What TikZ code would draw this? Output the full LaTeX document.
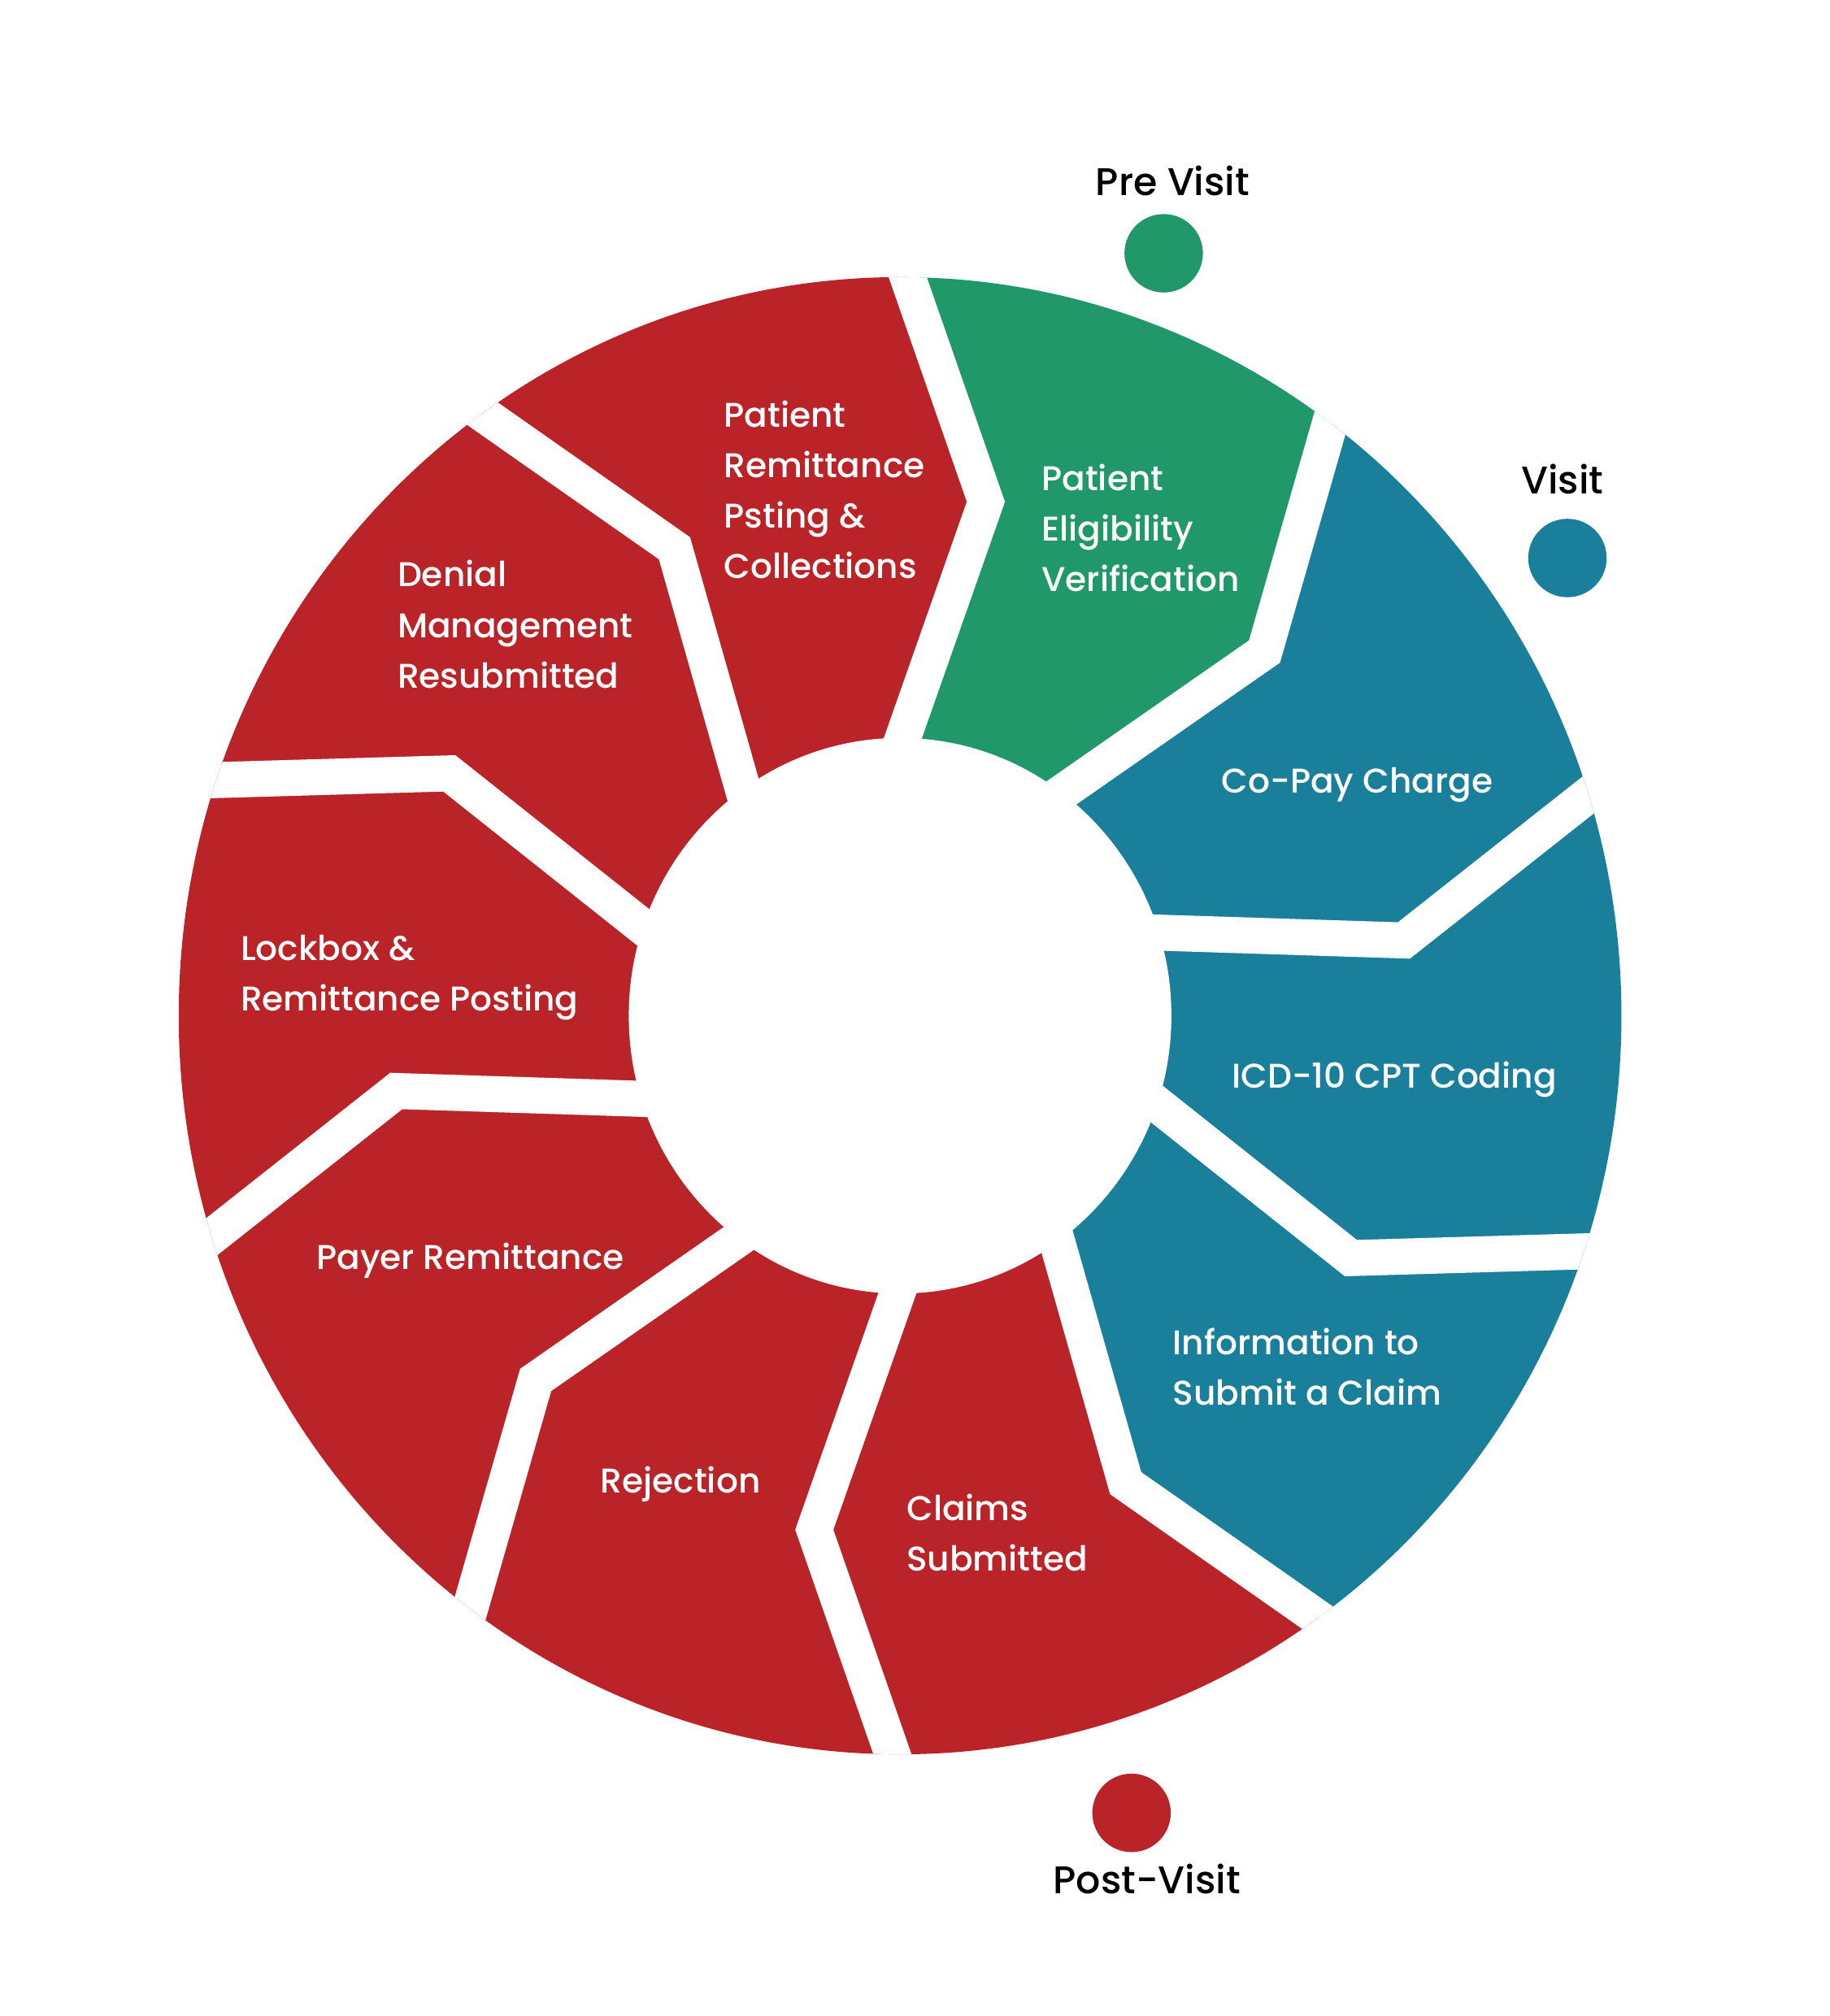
\documentclass[tikz,border=0pt]{standalone}
\usepackage{fontspec}
\setmainfont{Poppins Medium}
\usetikzlibrary{calc}
\definecolor{segred}{HTML}{BA2327}
\definecolor{seggreen}{HTML}{21986A}
\definecolor{segblue}{HTML}{1A7F9A}
\begin{document}
\begin{tikzpicture}[x=1pt,y=1pt,
  seglabel/.style={text=white, font=\fontsize{26.7}{39.3}\selectfont, align=left, anchor=base west, inner sep=0pt},
  phaselabel/.style={text=black, font=\fontsize{30}{36}\selectfont, anchor=base, inner sep=0pt},
  gapline/.style={white, line width=28pt, line join=miter},
  phasedot/.style={circle, minimum size=61pt, inner sep=0pt}]
\useasboundingbox (0,0) rectangle (1423,-1568);
\fill[white] (0,0) rectangle (1423,-1568);

\begin{scope}[shift={(700,-790)}, yscale=1.024]
  \foreach \k in {0,...,9}{
    \pgfmathsetmacro\a{90-(36*\k+0.6)}
    \pgfmathsetmacro\m{90-(36*\k+9.7)}
    \coordinate (po\k) at (\a:561);
    \coordinate (pm\k) at (\m:396);
    \coordinate (pi\k) at (\a:211);
    \coordinate (eo\k) at ($(pm\k)!1.5!(po\k)$);
    \coordinate (ei\k) at ($(pm\k)!1.4!(pi\k)$);
  }
  \begin{scope}
    \clip (0,0) circle (561);
    \foreach \k/\c in {0/seggreen,1/segblue,2/segblue,3/segblue,4/segred,5/segred,6/segred,7/segred,8/segred,9/segred}{
      \pgfmathtruncatemacro\n{mod(\k+1,10)}
      \pgfmathsetmacro\md{90-(36*\k+19)}
      \fill[\c] (ei\k) -- (pm\k) -- (eo\k) -- (\md:720) -- (eo\n) -- (pm\n) -- (ei\n) -- (0,0) -- cycle;
    }
    \foreach \k in {0,...,9}{
      \draw[gapline] (eo\k) -- (pm\k) -- (ei\k);
    }
  \end{scope}
  \fill[white] (0,0) circle (211);
\end{scope}

% segment labels (anchor = baseline of the last line)
\node[seglabel] (lelig) at (810,-460) {Patient\\Eligibility\\Verification};
\node[seglabel] (lcopay) at (950,-617) {Co-Pay Charge};
\node[seglabel] (licd) at (958,-846) {ICD-10 CPT Coding};
\node[seglabel] (linfo) at (912,-1093) {Information to\\Submit a Claim};
\node[seglabel] (lclaims) at (705,-1222) {Claims\\Submitted};
\node[seglabel] (lrej) at (467,-1161) {Rejection};
\node[seglabel] (lpayer) at (246,-987) {Payer Remittance};
\node[seglabel] (llock) at (187,-786) {Lockbox \&\\Remittance Posting};
\node[seglabel] (ldenial) at (309,-535) {Denial\\Management\\Resubmitted};
\node[seglabel] (lprem) at (563,-450) {Patient\\Remittance\\Psting \&\\Collections};

% phase markers
\node[phasedot, fill=seggreen] (dpre) at (905,-197) {};
\node[phaselabel] (tpre) at (912,-152) {Pre Visit};
\node[phasedot, fill=segblue] (dvisit) at (1219,-434) {};
\node[phaselabel] (tvisit) at (1215,-384) {Visit};
\node[phasedot, fill=segred] (dpost) at (880,-1410) {};
\node[phaselabel] (tpost) at (892,-1473) {Post-Visit};
\end{tikzpicture}
\end{document}
